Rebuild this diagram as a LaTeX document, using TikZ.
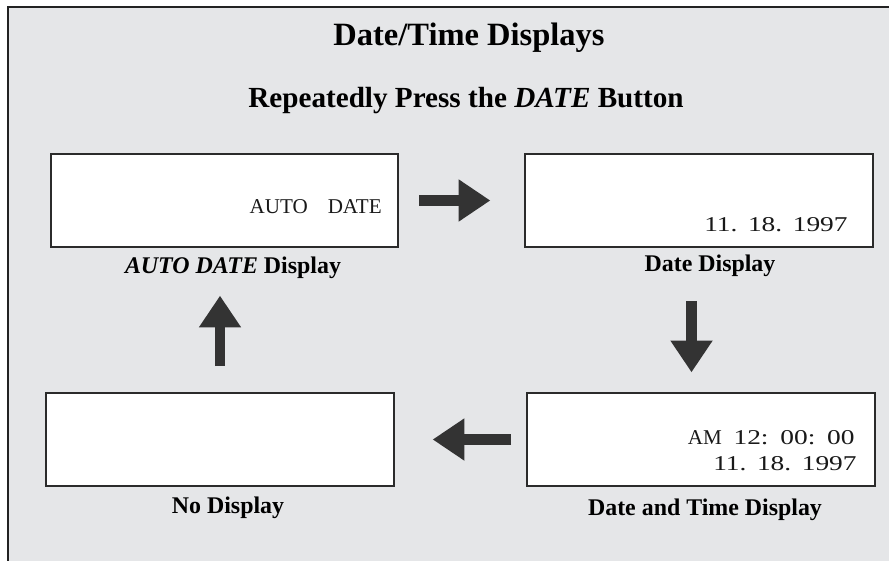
\documentclass[tikz,border=0pt]{standalone}
\usepackage{fontspec}
\setmainfont{Liberation Serif}
\newfontfamily\lcdnum[FakeStretch=1.3]{Liberation Serif}
\usetikzlibrary{arrows.meta}

\definecolor{panelbg}{HTML}{E5E6E8}
\definecolor{panelline}{HTML}{222222}
\definecolor{lcdline}{HTML}{2B2B2B}
\definecolor{arrowfill}{HTML}{333333}

\begin{document}
\begin{tikzpicture}[
    x={(0.02cm,0cm)}, y={(0cm,-0.02cm)},
    lcd/.style={draw=lcdline, line width=0.04cm, fill=white,
        minimum width=6.96cm, minimum height=1.86cm, inner sep=0pt},
    lcdtxt/.style={font=\fontsize{12}{13}\selectfont, text=black!90, anchor=base east, inner sep=0pt},
    bigarr/.style={arrowfill, line width=0.21cm,
        -{Triangle[width=0.85cm, length=0.63cm, line width=0pt]}},
    heading/.style={font=\fontsize{18.5}{21}\selectfont\bfseries, anchor=base},
    namelbl/.style={font=\fontsize{13.6}{15}\selectfont\bfseries, anchor=base},
]

\useasboundingbox (0,0) rectangle (889,561);

% Panel
\fill[panelbg] (8,7) rectangle (900,570);
\draw[panelline, line width=0.06cm] (8,575) -- (8,7) -- (900,7);

% Headings
\node[heading] (title) at (469,45) {Date/Time Displays};
\node[heading, font=\fontsize{16.6}{19}\selectfont\bfseries] (press) at (466,107)
    {Repeatedly Press the \textit{DATE} Button};

% AUTO DATE
\node[lcd] (auto) at (224.5,200.5) {};
\node[lcdtxt] (autotxt) at (382,213) {AUTO\hspace{0.95em}DATE};
\node[namelbl] (autolbl) at (233,273) {\textit{AUTO DATE} Display};

% Date
\node[lcd] (date) at (699,200.5) {};
\node[lcdtxt] (datetxt) at (848,231) {\lcdnum 11.\hspace{0.5em}18.\hspace{0.5em}1997};
\node[namelbl] (datelbl) at (710,271) {Date Display};

% Date and time
\node[lcd] (dtime) at (701,439.5) {};
\node[lcdtxt] (timetxt) at (855,444)
    {AM\hspace{0.56em}\lcdnum 12:\hspace{0.56em}00:\hspace{0.56em}00};
\node[lcdtxt] (dtimetxt) at (857,470) {\lcdnum 11.\hspace{0.5em}18.\hspace{0.5em}1997};
\node[namelbl] (dtimelbl) at (705,515) {Date and Time Display};

% No display
\node[lcd] (none) at (220,439.5) {};
\node[namelbl] (nonelbl) at (228,513) {No Display};

% Arrows
\draw[bigarr, shorten <=0.4cm, shorten >=0.68cm] (auto.east) -- (date.west);
\draw[bigarr, shorten <=1.06cm, shorten >=0.4cm]
    ([xshift=-0.15cm]date.south) -- ([xshift=-0.15cm]date.south |- dtime.north);
\draw[bigarr, shorten <=0.3cm, shorten >=0.76cm] (dtime.west) -- (none.east);
\draw[bigarr, shorten <=0.52cm, shorten >=0.96cm] (none.north) -- (none.north |- auto.south);

\end{tikzpicture}
\end{document}
